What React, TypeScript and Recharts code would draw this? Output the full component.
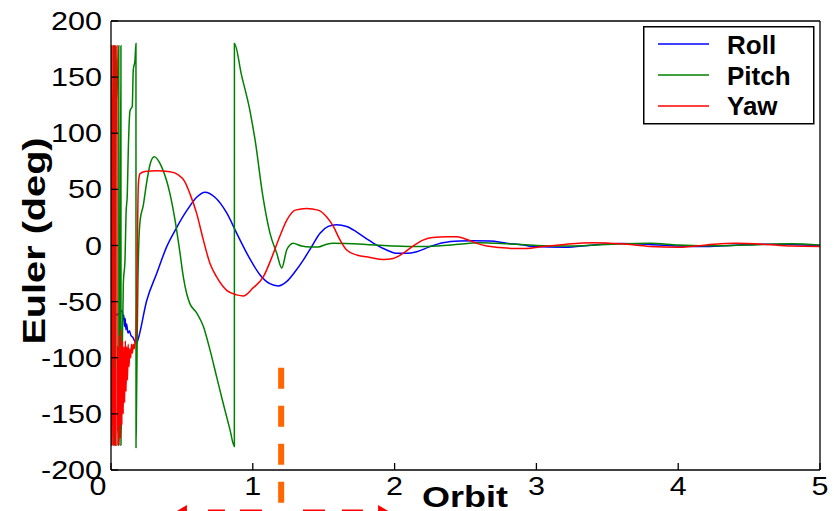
import { LineChart, Line, XAxis, YAxis, ReferenceLine } from 'recharts';

const xTicks = [0, 1, 2, 3, 4, 5];
const yTicks = [-200, -150, -100, -50, 0, 50, 100, 150, 200];

// [orbit, deg]
const roll: [number, number][] = [
  [0, 35], [0.004, 38], [0.012, 10], [0.02, -40], [0.028, -58], [0.04, -62], [0.06, -60],
  [0.08, -58], [0.085, -66], [0.09, -62], [0.095, -72], [0.1, -65], [0.105, -75], [0.11, -70],
  [0.12, -78], [0.13, -76], [0.14, -80], [0.155, -82], [0.17, -86], [0.181, -87], [0.19, -84],
  [0.252, -49], [0.322, -25], [0.393, -1], [0.463, 16], [0.534, 31], [0.604, 43], [0.663, 47.5],
  [0.733, 43], [0.816, 29], [0.886, 11], [0.98, -12], [1.05, -26], [1.12, -34], [1.18, -36],
  [1.24, -32], [1.3, -23], [1.356, -13], [1.415, -1], [1.474, 11], [1.532, 17], [1.59, 18.5],
  [1.662, 17], [1.733, 12], [1.803, 6], [1.874, 0.4], [1.944, -4], [2.015, -7], [2.085, -7],
  [2.156, -5.6], [2.25, -1], [2.34, 2.4], [2.46, 4], [2.555, 4.2], [2.673, 4], [2.79, 2],
  [2.91, 0.4], [2.98, -1], [3.2, -1.5], [3.4, 0.5], [3.6, 1.8], [3.8, 1], [4.0, -0.5],
  [4.2, -1], [4.4, 0.2], [4.6, 1.2], [4.8, 0.8], [5.0, -0.3],
];

const pitch: [number, number][] = [
  [0, 0], [0.004, 178], [0.0045, -178], [0.015, -120], [0.025, -178], [0.0255, 178], [0.04, 130],
  [0.055, 178], [0.0555, -178], [0.062, -150], [0.07, 178], [0.0705, -178], [0.08, -90],
  [0.087, -34], [0.099, -12], [0.106, 28], [0.115, 46], [0.122, 85], [0.134, 120], [0.15, 124],
  [0.157, 156], [0.169, 165], [0.176, 180], [0.1765, -180], [0.18, -140], [0.185, -80],
  [0.19, -30], [0.197, 5], [0.205, 22], [0.228, 36], [0.25, 55], [0.275, 72], [0.305, 79],
  [0.357, 70], [0.416, 46], [0.451, 23], [0.487, -7], [0.51, -28], [0.534, -43], [0.557, -52],
  [0.604, -60], [0.651, -72], [0.698, -93], [0.745, -117], [0.792, -141], [0.839, -164],
  [0.87, -179], [0.8705, 180], [0.92, 152], [0.98, 120], [1.016, 94], [1.072, 43], [1.121, 11],
  [1.169, -7], [1.204, -20], [1.239, -4], [1.262, 0.4], [1.283, 2], [1.345, -0.5], [1.403, -1.4],
  [1.46, -1.4], [1.521, 1.2], [1.566, 2], [1.8, 1], [2.0, -0.5], [2.2, -1], [2.4, 0.5],
  [2.6, 2.5], [2.8, 1.5], [3.0, 0], [3.2, -0.5], [3.5, 1], [3.8, 2], [4.0, 0.5], [4.3, -0.3],
  [4.6, 1], [4.8, 1.5], [5.0, 0.5],
];

const yaw: [number, number][] = [
  [0, 0], [0.004, 178], [0.0045, -178], [0.01, -50], [0.016, 178], [0.0165, -178], [0.024, -110],
  [0.03, -178], [0.0305, 178], [0.036, 100], [0.042, 178], [0.0425, -178], [0.048, -90],
  [0.054, -178], [0.06, -80], [0.066, -172], [0.071, -75], [0.076, -160], [0.081, -85],
  [0.086, -150], [0.091, -90], [0.096, -140], [0.101, -85], [0.106, -130], [0.111, -90],
  [0.116, -120], [0.121, -88], [0.127, -108], [0.133, -92], [0.139, -100], [0.145, -88],
  [0.151, -96], [0.157, -88], [0.163, -92], [0.17, -86], [0.176, -80], [0.181, -50], [0.186, 0],
  [0.19, 40], [0.195, 58], [0.205, 64], [0.24, 66], [0.32, 66.5], [0.416, 65.6], [0.475, 63],
  [0.52, 57], [0.557, 46], [0.604, 28.6], [0.651, 5], [0.698, -16], [0.745, -28], [0.816, -40],
  [0.886, -44], [0.933, -45], [1.0, -38], [1.074, -28], [1.145, -7], [1.19, 8], [1.24, 22.6],
  [1.3, 31.5], [1.38, 33], [1.46, 31.5], [1.52, 25.6], [1.568, 17], [1.615, 5], [1.662, -4],
  [1.733, -8.5], [1.826, -10.6], [1.92, -12.4], [1.99, -11.5], [2.06, -7], [2.13, -0.5],
  [2.2, 4.8], [2.27, 7.2], [2.37, 7.7], [2.44, 7.7], [2.51, 5.4], [2.58, 1.9], [2.65, -0.5],
  [2.74, -1.7], [2.84, -2.6], [2.93, -2.6], [3.03, -1.2], [3.2, 1], [3.4, 2.5], [3.6, 1.5],
  [3.8, -0.8], [4.0, -1.5], [4.2, 0.5], [4.4, 2], [4.6, 1.2], [4.8, -0.5], [5.0, -0.8],
];

const series = [
  { name: 'Roll', color: '#0000ff', points: roll },
  { name: 'Pitch', color: '#008000', points: pitch },
  { name: 'Yaw', color: '#ff0000', points: yaw },
];

const FONT = '"Liberation Sans", Arial, Helvetica, sans-serif';
const STRETCH = 1.22;

const XTick = ({ x, y, payload }: any) => {
  const dx = payload.value === 0 ? -13 : 0;
  return (
    <text transform={`translate(${x + dx},${y}) scale(${STRETCH},1)`} textAnchor="middle"
      fontFamily={FONT} fontSize={25} fill="#000">
      {payload.value}
    </text>
  );
};

const YTick = ({ x, y, payload }: any) => (
  <text transform={`translate(${x},${y + 9}) scale(${STRETCH},1)`} textAnchor="end"
    fontFamily={FONT} fontSize={25} fill="#000">
    {payload.value}
  </text>
);

const ArrowShape = (p: any) => {
  const left = Math.min(p.x1, p.x2);
  const right = Math.max(p.x1, p.x2);
  const y = p.y1;
  return (
    <g>
      <line x1={left + 12} y1={y} x2={right - 12} y2={y} stroke="#ff0000" strokeWidth={5}
        strokeDasharray="0 21 17 15 22 41 22 17 21 100" />
      <polygon points={`${left},${y} ${left + 12},${y - 7} ${left + 12},${y + 7}`} fill="#ff0000" />
      <polygon points={`${right},${y} ${right - 12},${y - 7} ${right - 12},${y + 7}`} fill="#ff0000" />
    </g>
  );
};

const axisStroke = { stroke: '#000', strokeWidth: 1.3 };

export default function App() {
  return (
    <div style={{ position: 'absolute', left: 0, top: 0, width: 834, height: 511, background: '#fff' }}>
      <LineChart width={834} height={511} margin={{ top: 0, right: 0, bottom: 0, left: 0 }}>
        <XAxis xAxisId={0} type="number" dataKey="x" domain={[0, 5]} ticks={xTicks} interval={0}
          allowDataOverflow height={41} tickSize={-7} tickMargin={32} tick={<XTick />}
          axisLine={axisStroke} tickLine={axisStroke} />
        <XAxis xAxisId="top" orientation="top" type="number" dataKey="x" domain={[0, 5]} ticks={xTicks}
          interval={0} allowDataOverflow height={21} tickSize={-7} tick={false}
          axisLine={axisStroke} tickLine={axisStroke} />
        <YAxis yAxisId={0} type="number" domain={[-200, 200]} ticks={yTicks} interval={0}
          allowDataOverflow width={111} tickSize={-7} tickMargin={16} tick={<YTick />}
          axisLine={axisStroke} tickLine={axisStroke} />
        <YAxis yAxisId="right" orientation="right" type="number" domain={[-200, 200]} ticks={yTicks}
          interval={0} allowDataOverflow width={14} tickSize={-7} tick={false}
          axisLine={axisStroke} tickLine={axisStroke} />
        {series.map((s) => (
          <Line key={s.name} xAxisId={0} yAxisId={0} name={s.name} type="monotone"
            data={s.points.map(([x, y]) => ({ x, y }))} dataKey="y" stroke={s.color}
            strokeWidth={1.5} dot={false} activeDot={false} isAnimationActive={false} />
        ))}
        <ReferenceLine xAxisId={0} yAxisId={0} segment={[{ x: 1.2, y: -109 }, { x: 1.2, y: -245 }]}
          stroke="#ff6600" strokeWidth={6} strokeDasharray="21 17" ifOverflow="visible" />
        <ReferenceLine xAxisId={0} yAxisId={0} segment={[{ x: 0.451, y: -237.5 }, { x: 1.968, y: -237.5 }]}
          stroke="#ff0000" ifOverflow="visible" shape={ArrowShape} />
      </LineChart>
      <svg width={834} height={511} style={{ position: 'absolute', left: 0, top: 0, pointerEvents: 'none' }}>
        <text transform="translate(45,241) rotate(-90) scale(1.24,1)" textAnchor="middle"
          fontFamily={FONT} fontWeight="bold" fontSize={32} fill="#000">Euler (deg)</text>
        <text transform="translate(465,507) scale(1.2,1)" textAnchor="middle"
          fontFamily={FONT} fontWeight="bold" fontSize={30} fill="#000">Orbit</text>
        <g transform="translate(643,26)">
          <rect x={0.75} y={0.75} width={170} height={97} fill="#fff" stroke="#000" strokeWidth={1.5} />
          {series.map((s, i) => (
            <g key={s.name}>
              <line x1={15} x2={66} y1={18 + i * 31} y2={18 + i * 31} stroke={s.color} strokeWidth={1.5} />
              <text x={84} y={28 + i * 30.5} fontFamily={FONT} fontWeight="bold" fontSize={26} fill="#000">
                {s.name}
              </text>
            </g>
          ))}
        </g>
      </svg>
    </div>
  );
}
